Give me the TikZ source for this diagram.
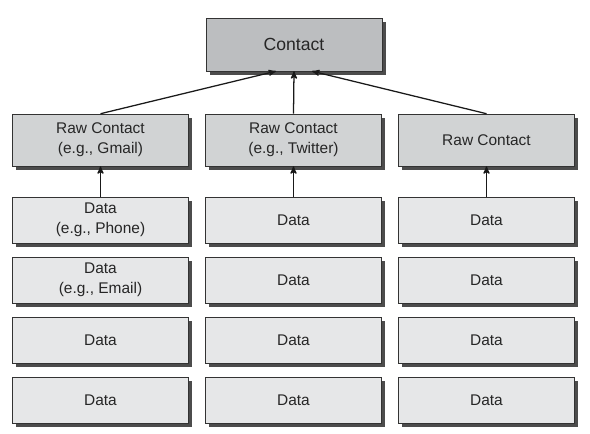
\documentclass[tikz,border=0pt]{standalone}
\usepackage{fontspec}
\setmainfont{Liberation Sans}
\usetikzlibrary{shadows, arrows}
\definecolor{contactgray}{HTML}{BCBEC0}
\definecolor{rawgray}{HTML}{D1D3D4}
\definecolor{datagray}{HTML}{E6E7E8}
\begin{document}
\begin{tikzpicture}[x=0.025cm, y=-0.025cm]
       \tikzstyle{arrow} = [line width=0.9pt,->,>=stealth', draw=black!90]
       \tikzstyle{box} = [rectangle, minimum width=4.4cm, text centered, align=center, draw=black!80, text=black!85, font=\fontsize{11}{14}\selectfont, drop shadow={shadow xshift=0.09cm, shadow yshift=-0.09cm, fill=black!70, opacity=1}]
       \tikzstyle{contactbox} = [box, minimum height=1.32cm, fill=contactgray, font=\fontsize{12.5}{15}\selectfont]
       \tikzstyle{rawbox} = [box, minimum height=1.3cm, fill=rawgray]
       \tikzstyle{databox} = [box, minimum height=1.15cm, fill=datagray]
       \useasboundingbox (0,0) rectangle (590,433);
       \node[contactbox] (contact) at (294,44.5) {Contact};
       \node[rawbox] (raw-1) at (100.5,140) {Raw Contact\\(e.g., Gmail)};
       \node[rawbox] (raw-2) at (293.5,140) {Raw Contact\\(e.g., Twitter)};
       \node[rawbox] (raw-3) at (486.5,140) {Raw Contact};
       \node[databox] (data-1-1) at (100.5,220) {Data\\(e.g., Phone)};
       \node[databox] (data-1-2) at (100.5,280) {Data\\(e.g., Email)};
       \foreach \c/\x in {2/293.5,3/486.5}
       {
         \node[databox] (data-\c-1) at (\x,220) {Data};
         \node[databox] (data-\c-2) at (\x,280) {Data};
       }
       \foreach \c/\x in {1/100.5,2/293.5,3/486.5}
       {
         \node[databox] (data-\c-3) at (\x,340) {Data};
         \node[databox] (data-\c-4) at (\x,400) {Data};
         \draw [arrow] (data-\c-1) -- (raw-\c);
       }
       \draw [arrow] (raw-1.north) -- ([xshift=-0.45cm]contact.south);
       \draw [arrow] (raw-2.north) -- (contact.south);
       \draw [arrow] (raw-3.north) -- ([xshift=0.45cm]contact.south);
\end{tikzpicture}
\end{document}
